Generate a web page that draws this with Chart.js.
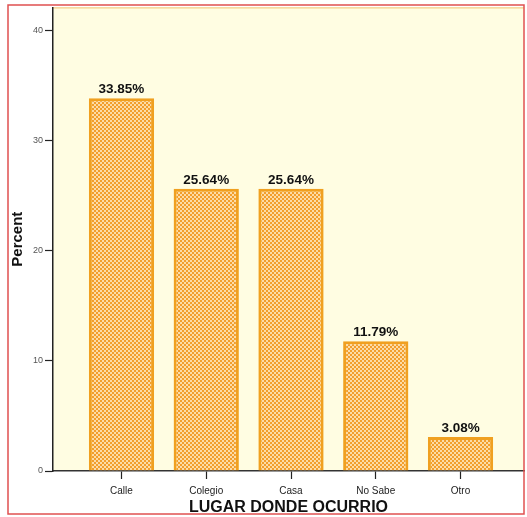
<!DOCTYPE html>
<html>
<head>
<meta charset="utf-8">
<script src="https://cdn.jsdelivr.net/npm/chart.js@4"></script>
<style>
  html, body { margin: 0; padding: 0; background: #fff; }
  #wrap { width: 527px; height: 517px; }
</style>
</head>
<body>
<div id="wrap"><canvas id="lugarChart" width="527" height="517"></canvas></div>
<script>
const categories = ['Calle', 'Colegio', 'Casa', 'No Sabe', 'Otro'];
const percents = [33.85, 25.64, 25.64, 11.79, 3.08];
const yTicks = [0, 10, 20, 30, 40];

// small checker tile for the hatched bar fill
function hatch() {
  const c = document.createElement('canvas');
  c.width = 4; c.height = 4;
  const g = c.getContext('2d');
  g.fillStyle = '#fcdca6';
  g.fillRect(0, 0, 4, 4);
  g.fillStyle = '#f29e2c';
  g.fillRect(0, 0, 2, 2);
  g.fillRect(2, 2, 2, 2);
  return g.createPattern(c, 'repeat');
}

const frame = {
  id: 'frame',
  beforeDraw(chart) {
    const { ctx, chartArea: a } = chart;
    ctx.save();
    ctx.fillStyle = '#fffde2';
    ctx.fillRect(a.left, a.top, a.right - a.left, a.bottom - a.top);
    ctx.strokeStyle = '#f0c070';
    ctx.lineWidth = 1;
    ctx.beginPath();
    ctx.moveTo(a.left, a.top + 0.5);
    ctx.lineTo(a.right, a.top + 0.5);
    ctx.stroke();
    ctx.restore();
  },
  afterDraw(chart) {
    const { ctx } = chart;
    ctx.save();
    ctx.strokeStyle = '#e05050';
    ctx.lineWidth = 1.5;
    ctx.strokeRect(8, 5, 516, 509);
    ctx.restore();
  }
};

const valueLabels = {
  id: 'valueLabels',
  afterDatasetsDraw(chart) {
    const { ctx } = chart;
    const meta = chart.getDatasetMeta(0);
    ctx.save();
    ctx.font = 'bold 13.5px "Liberation Sans", Arial, sans-serif';
    ctx.fillStyle = '#111';
    ctx.textAlign = 'center';
    ctx.textBaseline = 'bottom';
    meta.data.forEach((bar, i) => {
      ctx.fillText(percents[i].toFixed(2) + '%', bar.x, bar.y - 2);
    });
    ctx.restore();
  }
};

new Chart(document.getElementById('lugarChart'), {
  type: 'bar',
  data: {
    datasets: [{
      data: percents.map((v, i) => ({ x: i, y: v })),
      backgroundColor: hatch(),
      borderColor: '#f0a020',
      borderWidth: 3,
      borderSkipped: 'bottom',
      barPercentage: 0.77,
      categoryPercentage: 1
    }]
  },
  options: {
    responsive: false,
    animation: false,
    layout: { padding: { top: 7, right: 3, left: 0, bottom: 0 } },
    plugins: { legend: { display: false }, tooltip: { enabled: false } },
    scales: {
      x: {
        type: 'linear',
        offset: false,
        min: -0.808,
        max: 4.749,
        afterBuildTicks: s => { s.ticks = categories.map((c, i) => ({ value: i })); },
        afterFit: s => { s.height = 46; },
        ticks: {
          callback: v => categories[v],
          color: '#222',
          font: { size: 10, family: '"Liberation Sans", Arial, sans-serif' },
          padding: 6,
          maxRotation: 0
        },
        grid: { offset: false, drawOnChartArea: false, tickLength: 8, color: '#222', tickWidth: 1.2 },
        border: { color: '#333', width: 1.5 },
        title: {
          display: true,
          text: 'LUGAR DONDE OCURRIO',
          color: '#111',
          font: { size: 16, weight: 'bold', family: '"Liberation Sans", Arial, sans-serif' },
          padding: { top: 2, bottom: 0 }
        }
      },
      y: {
        min: 0,
        max: 42.1,
        afterBuildTicks: s => { s.ticks = yTicks.map(v => ({ value: v })); },
        afterFit: s => { s.width = 53; },
        ticks: {
          color: '#555',
          font: { size: 9, family: '"Liberation Sans", Arial, sans-serif' },
          padding: 2
        },
        grid: { drawOnChartArea: false, tickLength: 8, color: '#222', tickWidth: 1.2 },
        border: { color: '#222', width: 1.5 },
        title: {
          display: true,
          text: 'Percent',
          color: '#111',
          font: { size: 15, weight: 'bold', family: '"Liberation Sans", Arial, sans-serif' },
          padding: { top: 9, bottom: 0 }
        }
      }
    }
  },
  plugins: [frame, valueLabels]
});
</script>
</body>
</html>
